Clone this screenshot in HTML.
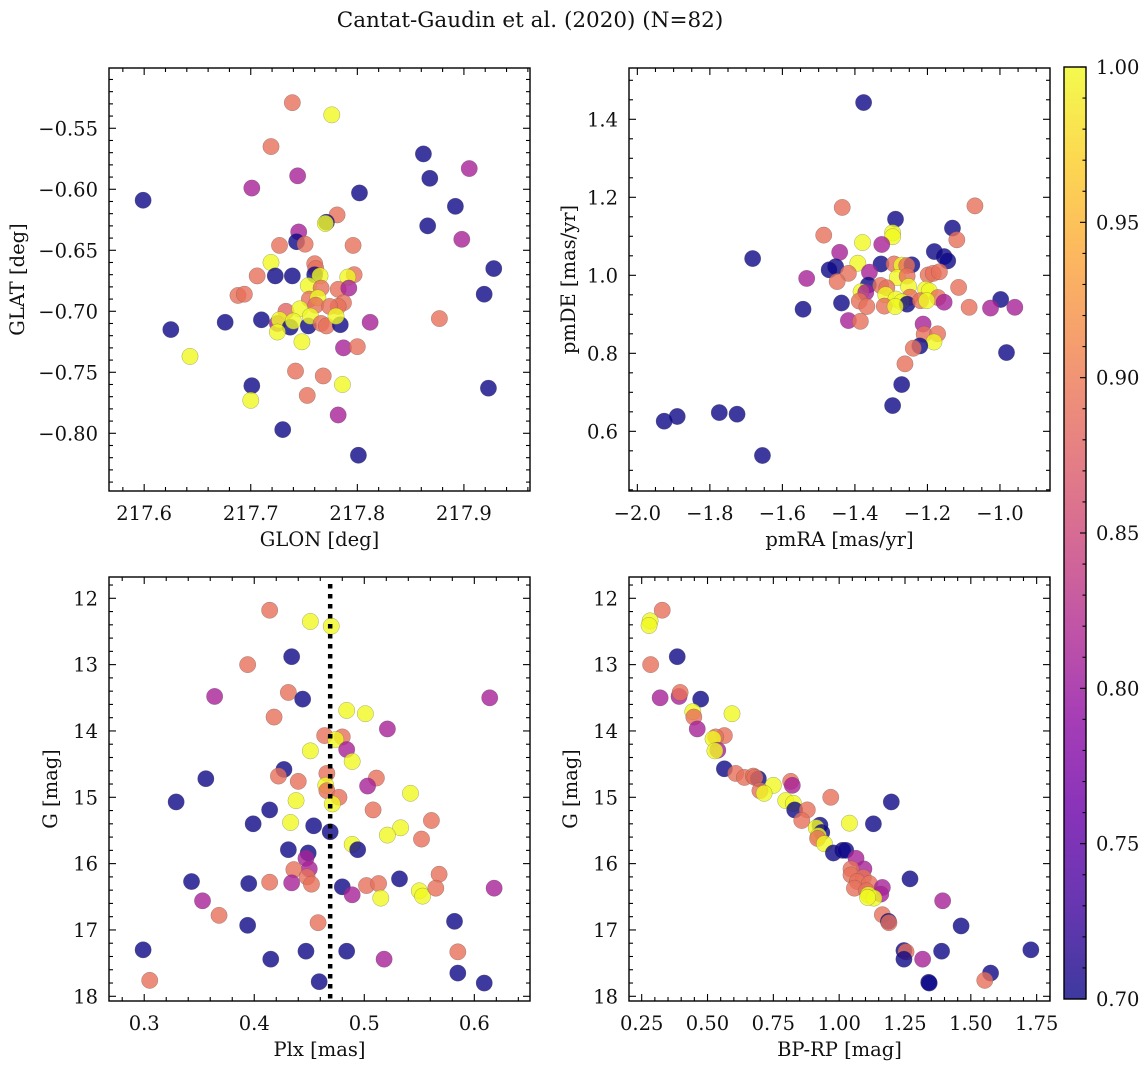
<!DOCTYPE html>
<html><head><meta charset="utf-8">
<style>
html,body{margin:0;padding:0;background:#fff;}
svg{display:block;font-family:"DejaVu Serif","Liberation Serif",serif;}
</style></head>
<body>
<svg id="fig" width="1148" height="1067" viewBox="0 0 1148 1067" xmlns="http://www.w3.org/2000/svg">
<text x="530" y="27" font-size="21.5" text-anchor="middle" fill="#111">Cantat-Gaudin et al. (2020) (N=82)</text>
</svg>
<script>
// ---- Panel 1: sky position ----
const p1Glon = [217.599,217.739,217.776,217.719,217.862,217.905,217.744,217.701,217.868,217.802,217.892,217.781,217.771,217.770,217.866,217.745,217.898,217.743,217.751,217.727,217.796,217.719,217.760,217.928,217.761,217.706,217.723,217.739,217.760,217.765,217.797,217.791,217.754,217.766,217.782,217.792,217.688,217.694,217.919,217.755,217.763,217.761,217.787,217.782,217.774,217.733,217.746,217.676,217.710,217.625,217.725,217.727,217.737,217.740,217.754,217.756,217.766,217.771,217.784,217.780,217.812,217.725,217.748,217.787,217.800,217.643,217.742,217.768,217.786,217.877,217.701,217.700,217.753,217.923,217.782,217.730,217.801];
const p1Glat = [-0.609,-0.529,-0.539,-0.565,-0.571,-0.583,-0.589,-0.599,-0.591,-0.603,-0.614,-0.621,-0.627,-0.628,-0.630,-0.635,-0.641,-0.643,-0.645,-0.646,-0.646,-0.660,-0.661,-0.665,-0.665,-0.671,-0.671,-0.671,-0.670,-0.671,-0.670,-0.672,-0.679,-0.681,-0.682,-0.681,-0.687,-0.686,-0.686,-0.690,-0.689,-0.695,-0.693,-0.696,-0.696,-0.700,-0.698,-0.709,-0.707,-0.715,-0.710,-0.707,-0.713,-0.708,-0.712,-0.704,-0.710,-0.712,-0.711,-0.704,-0.709,-0.717,-0.725,-0.730,-0.729,-0.737,-0.749,-0.753,-0.760,-0.706,-0.761,-0.773,-0.769,-0.763,-0.785,-0.797,-0.818];
const p1Prob = [0.70,0.89,1.00,0.89,0.70,0.81,0.81,0.81,0.70,0.70,0.70,0.89,0.70,1.00,0.70,0.81,0.81,0.70,0.89,0.89,0.89,1.00,0.89,0.70,0.89,0.89,0.70,0.70,0.70,1.00,0.89,1.00,1.00,0.89,0.89,0.81,0.89,0.89,0.70,0.89,1.00,0.89,0.89,0.89,0.89,0.88,1.00,0.70,0.70,0.70,0.81,1.00,0.70,1.00,0.70,1.00,0.89,0.89,0.70,1.00,0.81,1.00,1.00,0.81,0.89,1.00,0.89,0.89,1.00,0.89,0.70,1.00,0.89,0.70,0.81,0.70,0.70];
// ---- Panel 2: proper motions ----
const p2PmRA = [-1.376,-1.435,-1.069,-1.288,-1.296,-1.296,-1.131,-1.486,-1.379,-1.326,-1.119,-1.442,-1.181,-1.154,-1.144,-1.682,-1.392,-1.328,-1.453,-1.471,-1.292,-1.271,-1.243,-1.257,-1.418,-1.360,-1.533,-1.449,-1.198,-1.184,-1.167,-1.283,-1.256,-1.363,-1.329,-1.312,-1.252,-1.114,-1.205,-1.195,-1.383,-1.370,-1.315,-1.248,-1.171,-1.287,-1.271,-1.256,-1.219,-1.202,-1.154,-0.998,-1.085,-1.026,-0.959,-1.437,-1.388,-1.367,-1.319,-1.289,-1.543,-1.418,-1.385,-1.212,-1.209,-1.172,-1.182,-1.221,-1.239,-0.982,-1.262,-1.271,-1.296,-1.926,-1.890,-1.774,-1.725,-1.655];
const p2PmDE = [1.443,1.174,1.178,1.144,1.109,1.099,1.121,1.103,1.084,1.079,1.091,1.059,1.061,1.048,1.037,1.043,1.031,1.029,1.022,1.014,1.029,1.026,1.027,1.025,1.005,1.008,0.992,0.984,1.001,1.005,1.009,0.994,0.998,0.975,0.974,0.968,0.971,0.969,0.964,0.960,0.958,0.956,0.950,0.944,0.943,0.939,0.932,0.926,0.935,0.935,0.931,0.938,0.918,0.916,0.918,0.929,0.934,0.920,0.921,0.920,0.913,0.884,0.882,0.875,0.849,0.850,0.829,0.819,0.813,0.802,0.773,0.720,0.666,0.626,0.638,0.648,0.644,0.538];
const p2Prob = [0.70,0.89,0.89,0.70,1.00,1.00,0.70,0.89,1.00,0.81,0.89,0.81,0.70,0.70,0.70,0.70,1.00,0.70,0.70,0.70,0.89,1.00,0.70,0.89,0.89,0.81,0.81,0.89,0.89,0.89,0.89,1.00,0.89,0.70,0.89,0.89,1.00,0.89,1.00,1.00,1.00,0.81,1.00,0.89,0.89,1.00,1.00,0.70,0.89,1.00,0.81,0.70,0.89,0.81,0.81,0.70,0.89,0.89,0.89,1.00,0.70,0.81,0.89,0.81,0.89,0.89,1.00,0.70,0.89,0.70,0.89,0.70,0.70,0.70,0.70,0.70,0.70,0.70];
// ---- Panel 3: parallax vs G ----
const p3Plx = [0.414,0.451,0.470,0.434,0.394,0.364,0.431,0.444,0.614,0.484,0.501,0.418,0.521,0.464,0.480,0.474,0.484,0.451,0.489,0.427,0.356,0.422,0.440,0.466,0.511,0.503,0.465,0.466,0.477,0.542,0.329,0.438,0.471,0.414,0.508,0.561,0.399,0.433,0.454,0.469,0.533,0.521,0.552,0.489,0.494,0.431,0.449,0.447,0.450,0.436,0.448,0.452,0.434,0.414,0.395,0.343,0.480,0.489,0.502,0.513,0.532,0.568,0.550,0.553,0.565,0.618,0.515,0.353,0.368,0.394,0.458,0.582,0.299,0.447,0.484,0.585,0.415,0.518,0.585,0.305,0.459,0.609];
const p3G = [12.18,12.35,12.42,12.88,13.00,13.48,13.42,13.52,13.50,13.69,13.74,13.79,13.97,14.07,14.09,14.13,14.28,14.30,14.46,14.58,14.72,14.68,14.76,14.64,14.71,14.83,14.82,14.90,15.00,14.94,15.07,15.05,15.10,15.19,15.19,15.35,15.40,15.38,15.43,15.52,15.46,15.57,15.63,15.71,15.79,15.79,15.84,15.92,16.08,16.09,16.20,16.31,16.29,16.28,16.30,16.27,16.35,16.47,16.33,16.30,16.23,16.16,16.41,16.49,16.37,16.37,16.52,16.56,16.78,16.93,16.89,16.87,17.30,17.32,17.32,17.33,17.44,17.44,17.65,17.76,17.78,17.80];
const p3Prob = [0.89,1.00,1.00,0.70,0.89,0.81,0.89,0.70,0.81,1.00,1.00,0.89,0.81,0.89,0.89,1.00,0.81,1.00,1.00,0.70,0.70,0.89,0.89,0.89,0.89,0.81,1.00,0.89,0.89,1.00,0.70,1.00,1.00,0.70,0.89,0.89,0.70,1.00,0.70,0.70,1.00,1.00,0.89,1.00,0.70,0.70,0.70,0.81,0.81,0.89,0.89,0.89,0.81,0.89,0.70,0.70,0.70,0.81,0.89,0.89,0.70,0.89,1.00,1.00,0.89,0.81,1.00,0.81,0.89,0.70,0.89,0.70,0.70,0.70,0.70,0.89,0.70,0.81,0.70,0.89,0.70,0.70];
const meanPlx = [0.469];
// ---- Panel 4: CMD ----
const p4BpRp = [0.328,0.282,0.278,0.385,0.284,0.320,0.392,0.396,0.474,0.444,0.448,0.593,0.461,0.564,0.531,0.521,0.539,0.528,0.564,0.607,0.640,0.674,0.693,0.680,0.750,0.699,0.715,0.816,0.822,0.968,1.198,0.797,0.826,0.831,0.879,0.858,0.927,1.039,1.130,0.913,0.934,0.921,0.918,0.944,0.978,1.013,1.025,1.064,1.094,1.045,1.045,1.092,1.069,1.115,1.269,1.164,1.058,1.158,1.104,1.111,1.132,1.108,1.393,1.164,1.187,1.189,1.463,1.246,1.254,1.246,1.317,1.389,1.728,1.575,1.553,1.340,1.342];
const p4G = [12.18,12.34,12.41,12.88,13.00,13.50,13.48,13.42,13.52,13.71,13.79,13.74,13.97,14.07,14.09,14.12,14.29,14.30,14.57,14.64,14.70,14.68,14.72,14.70,14.82,14.90,14.94,14.76,14.82,15.00,15.07,15.05,15.09,15.19,15.19,15.35,15.42,15.39,15.40,15.46,15.53,15.58,15.62,15.70,15.84,15.80,15.80,15.92,16.08,16.08,16.17,16.21,16.27,16.30,16.23,16.36,16.37,16.46,16.41,16.47,16.52,16.51,16.56,16.77,16.87,16.89,16.94,17.31,17.33,17.44,17.44,17.32,17.30,17.65,17.76,17.79,17.80];
const p4Prob = [0.89,1.00,1.00,0.70,0.89,0.81,0.81,0.89,0.70,1.00,0.89,1.00,0.81,0.89,0.89,1.00,0.81,1.00,0.70,0.89,0.89,0.89,0.70,0.89,1.00,0.89,1.00,0.89,0.81,0.89,0.70,1.00,1.00,0.70,0.89,0.89,0.70,1.00,0.70,1.00,0.70,1.00,0.89,1.00,0.70,0.70,0.70,0.81,0.81,0.89,0.89,0.89,0.89,0.89,0.70,0.81,0.89,0.81,0.89,1.00,1.00,1.00,0.81,0.89,0.70,0.89,0.70,0.70,0.89,0.70,0.81,0.70,0.70,0.70,0.89,0.70,0.70];
const cbTicks = [0.70,0.75,0.80,0.85,0.90,0.95,1.00];

const NS = "http://www.w3.org/2000/svg";
const svg = document.getElementById('fig');
const FS = 19.5;
function mk(tag, attrs, parent) {
  const e = document.createElementNS(NS, tag);
  for (const k in attrs) e.setAttribute(k, attrs[k]);
  (parent || svg).appendChild(e);
  return e;
}
const stops = ["#0d0887","#41049d","#6a00a8","#8f0da4","#b12a90","#cc4778","#e16462","#f2844b","#fca636","#fcce25","#f0f921"];
function hex(h){return [parseInt(h.slice(1,3),16),parseInt(h.slice(3,5),16),parseInt(h.slice(5,7),16)];}
function plasma(t){
  t = Math.max(0, Math.min(1, t));
  const f = t*10, i = Math.min(9, Math.floor(f)), u = f - i;
  const a = hex(stops[i]), b = hex(stops[i+1]);
  return 'rgb(' + a.map((v,j)=>Math.round(v+(b[j]-v)*u)).join(',') + ')';
}
function cmap(v){ return plasma((v-0.70)/0.30); }
function fmt(v, d){ const s = Math.abs(v).toFixed(d); return (v < -1e-9 ? '\u2212' : '') + s; }

function panel(o) {
  const g = mk('g', {});
  
  
  const sx = v => o.x0 + (v - o.xmin) / (o.xmax - o.xmin) * (o.x1 - o.x0);
  const sy = o.yinv ? (v => o.y0 + (v - o.ymin) / (o.ymax - o.ymin) * (o.y1 - o.y0))
                    : (v => o.y1 - (v - o.ymin) / (o.ymax - o.ymin) * (o.y1 - o.y0));
  const pts = mk('g', {}, g);
  
  
  for (let i = 0; i < o.xs.length; i++) {
    const c = mk('circle', {cx: sx(o.xs[i]), cy: sy(o.ys[i]), r: 8.2, fill: cmap(o.cs[i]), 'fill-opacity': 0.8, stroke: '#555', 'stroke-opacity': 0.5, 'stroke-width': 0.5}, pts);
    
    
  }
  if (o.extra) o.extra(g, sx, sy);
  const tk = mk('g', {stroke: '#000', 'stroke-width': 1.1}, g);
  
  
  const eps = 1e-9;
  const lo = Math.min(o.xmin,o.xmax), hi = Math.max(o.xmin,o.xmax);
  for (let v = Math.ceil(lo/o.xminor - eps)*o.xminor; v <= hi + eps; v += o.xminor) {
    const isMaj = Math.abs(v/o.xmajor - Math.round(v/o.xmajor)) < 1e-6;
    const L = isMaj ? 7 : 4, X = sx(v);
    mk('line', {x1: X, x2: X, y1: o.y1, y2: o.y1 - L}, tk);
    mk('line', {x1: X, x2: X, y1: o.y0, y2: o.y0 + L}, tk);
  }
  const ylo = Math.min(o.ymin,o.ymax), yhi = Math.max(o.ymin,o.ymax);
  for (let v = Math.ceil(ylo/o.yminor - eps)*o.yminor; v <= yhi + eps; v += o.yminor) {
    const isMaj = Math.abs(v/o.ymajor - Math.round(v/o.ymajor)) < 1e-6;
    const L = isMaj ? 7 : 4, Y = sy(v);
    mk('line', {x1: o.x0, x2: o.x0 + L, y1: Y, y2: Y}, tk);
    mk('line', {x1: o.x1, x2: o.x1 - L, y1: Y, y2: Y}, tk);
  }
  for (const v of o.xticks) {
    const t = mk('text', {x: sx(v), y: o.y1 + 29, 'font-size': FS, 'text-anchor': 'middle', fill: '#111'}, g);
    t.textContent = fmt(v, o.xdec);
    
    
  }
  for (const v of o.yticks) {
    const t = mk('text', {x: o.x0 - 11, y: sy(v) + 7, 'font-size': FS, 'text-anchor': 'end', fill: '#111'}, g);
    t.textContent = fmt(v, o.ydec);
    
    
  }
  const fr = mk('rect', {x: o.x0, y: o.y0, width: o.x1 - o.x0, height: o.y1 - o.y0, fill: 'none', stroke: '#000', 'stroke-width': 1.4}, g);
  
  
  const xl = mk('text', {x: (o.x0 + o.x1)/2, y: o.y1 + 55, 'font-size': FS, 'text-anchor': 'middle', fill: '#111'}, g);
  xl.textContent = o.xlabel;
  
  
  const yl = mk('text', {x: 0, y: 0, 'font-size': FS, 'text-anchor': 'middle', fill: '#111', transform: 'translate(' + o.ylx + ',' + ((o.y0 + o.y1)/2) + ') rotate(-90)'}, g);
  yl.textContent = o.ylabel;
  
  
}

panel({name: 'panel-sky-position', x0: 109, x1: 530, y0: 68, y1: 491,
  xmin: 217.567, xmax: 217.962, ymin: -0.8473, ymax: -0.5006,
  xs: p1Glon, ys: p1Glat, cs: p1Prob,
  xminor: 0.02, xmajor: 0.1, yminor: 0.01, ymajor: 0.05,
  xticks: [217.6,217.7,217.8,217.9], xdec: 1,
  yticks: [-0.55,-0.60,-0.65,-0.70,-0.75,-0.80], ydec: 2,
  xlabel: 'GLON [deg]', ylabel: 'GLAT [deg]', ylx: 24});

panel({name: 'panel-proper-motion', x0: 629, x1: 1050, y0: 68, y1: 491,
  xmin: -2.023, xmax: -0.862, ymin: 0.447, ymax: 1.5315,
  xs: p2PmRA, ys: p2PmDE, cs: p2Prob,
  xminor: 0.05, xmajor: 0.2, yminor: 0.05, ymajor: 0.2,
  xticks: [-2.0,-1.8,-1.6,-1.4,-1.2,-1.0], xdec: 1,
  yticks: [0.6,0.8,1.0,1.2,1.4], ydec: 1,
  xlabel: 'pmRA [mas/yr]', ylabel: 'pmDE [mas/yr]', ylx: 575});

panel({name: 'panel-parallax', x0: 109, x1: 530, y0: 577, y1: 1001,
  xmin: 0.268, xmax: 0.6506, ymin: 11.679, ymax: 18.071, yinv: true,
  xs: p3Plx, ys: p3G, cs: p3Prob,
  xminor: 0.02, xmajor: 0.1, yminor: 0.2, ymajor: 1,
  xticks: [0.3,0.4,0.5,0.6], xdec: 1,
  yticks: [12,13,14,15,16,17,18], ydec: 0,
  xlabel: 'Plx [mas]', ylabel: 'G [mag]', ylx: 57,
  extra: function(g, sx, sy) {
    const l = mk('line', {x1: sx(meanPlx[0]), x2: sx(meanPlx[0]), y1: 584, y2: 1001, stroke: '#000', 'stroke-width': 4.5, 'stroke-dasharray': '4.5,5.5'}, g);
    
    
  }});

panel({name: 'panel-cmd', x0: 629, x1: 1050, y0: 577, y1: 1001,
  xmin: 0.2018, xmax: 1.8007, ymin: 11.679, ymax: 18.071, yinv: true,
  xs: p4BpRp, ys: p4G, cs: p4Prob,
  xminor: 0.05, xmajor: 0.25, yminor: 0.2, ymajor: 1,
  xticks: [0.25,0.5,0.75,1.0,1.25,1.5,1.75], xdec: 2,
  yticks: [12,13,14,15,16,17,18], ydec: 0,
  xlabel: 'BP-RP [mag]', ylabel: 'G [mag]', ylx: 577});

(function(){
  const g = mk('g', {});
  
  
  const X0 = 1064, X1 = 1086, Y0 = 67, Y1 = 999;
  const defs = mk('defs', {}, g);
  const lg = mk('linearGradient', {id: 'cbg', x1: 0, y1: 1, x2: 0, y2: 0}, defs);
  for (let i = 0; i <= 20; i++) mk('stop', {offset: i/20, 'stop-color': plasma(i/20)}, lg);
  mk('rect', {x: X0, y: Y0, width: X1-X0, height: Y1-Y0, fill: 'url(#cbg)', 'fill-opacity': 0.8}, g);
  const cy = v => Y1 - (v - 0.70)/0.30*(Y1 - Y0);
  for (let k = 0; k <= 30; k++) {
    const v = 0.70 + k*0.01, Y = cy(v);
    const L = (k % 5 === 0) ? 6 : 3.5;
    mk('line', {x1: X1, x2: X1 - L, y1: Y, y2: Y, stroke: '#000', 'stroke-width': 1.1}, g);
  }
  for (const v of cbTicks) {
    const t = mk('text', {x: 1096, y: cy(v) + 7, 'font-size': FS, fill: '#111'}, g);
    t.textContent = v.toFixed(2);
    
    
  }
  mk('rect', {x: X0, y: Y0, width: X1-X0, height: Y1-Y0, fill: 'none', stroke: '#000', 'stroke-width': 1.4}, g);
})();
</script>
</body></html>
